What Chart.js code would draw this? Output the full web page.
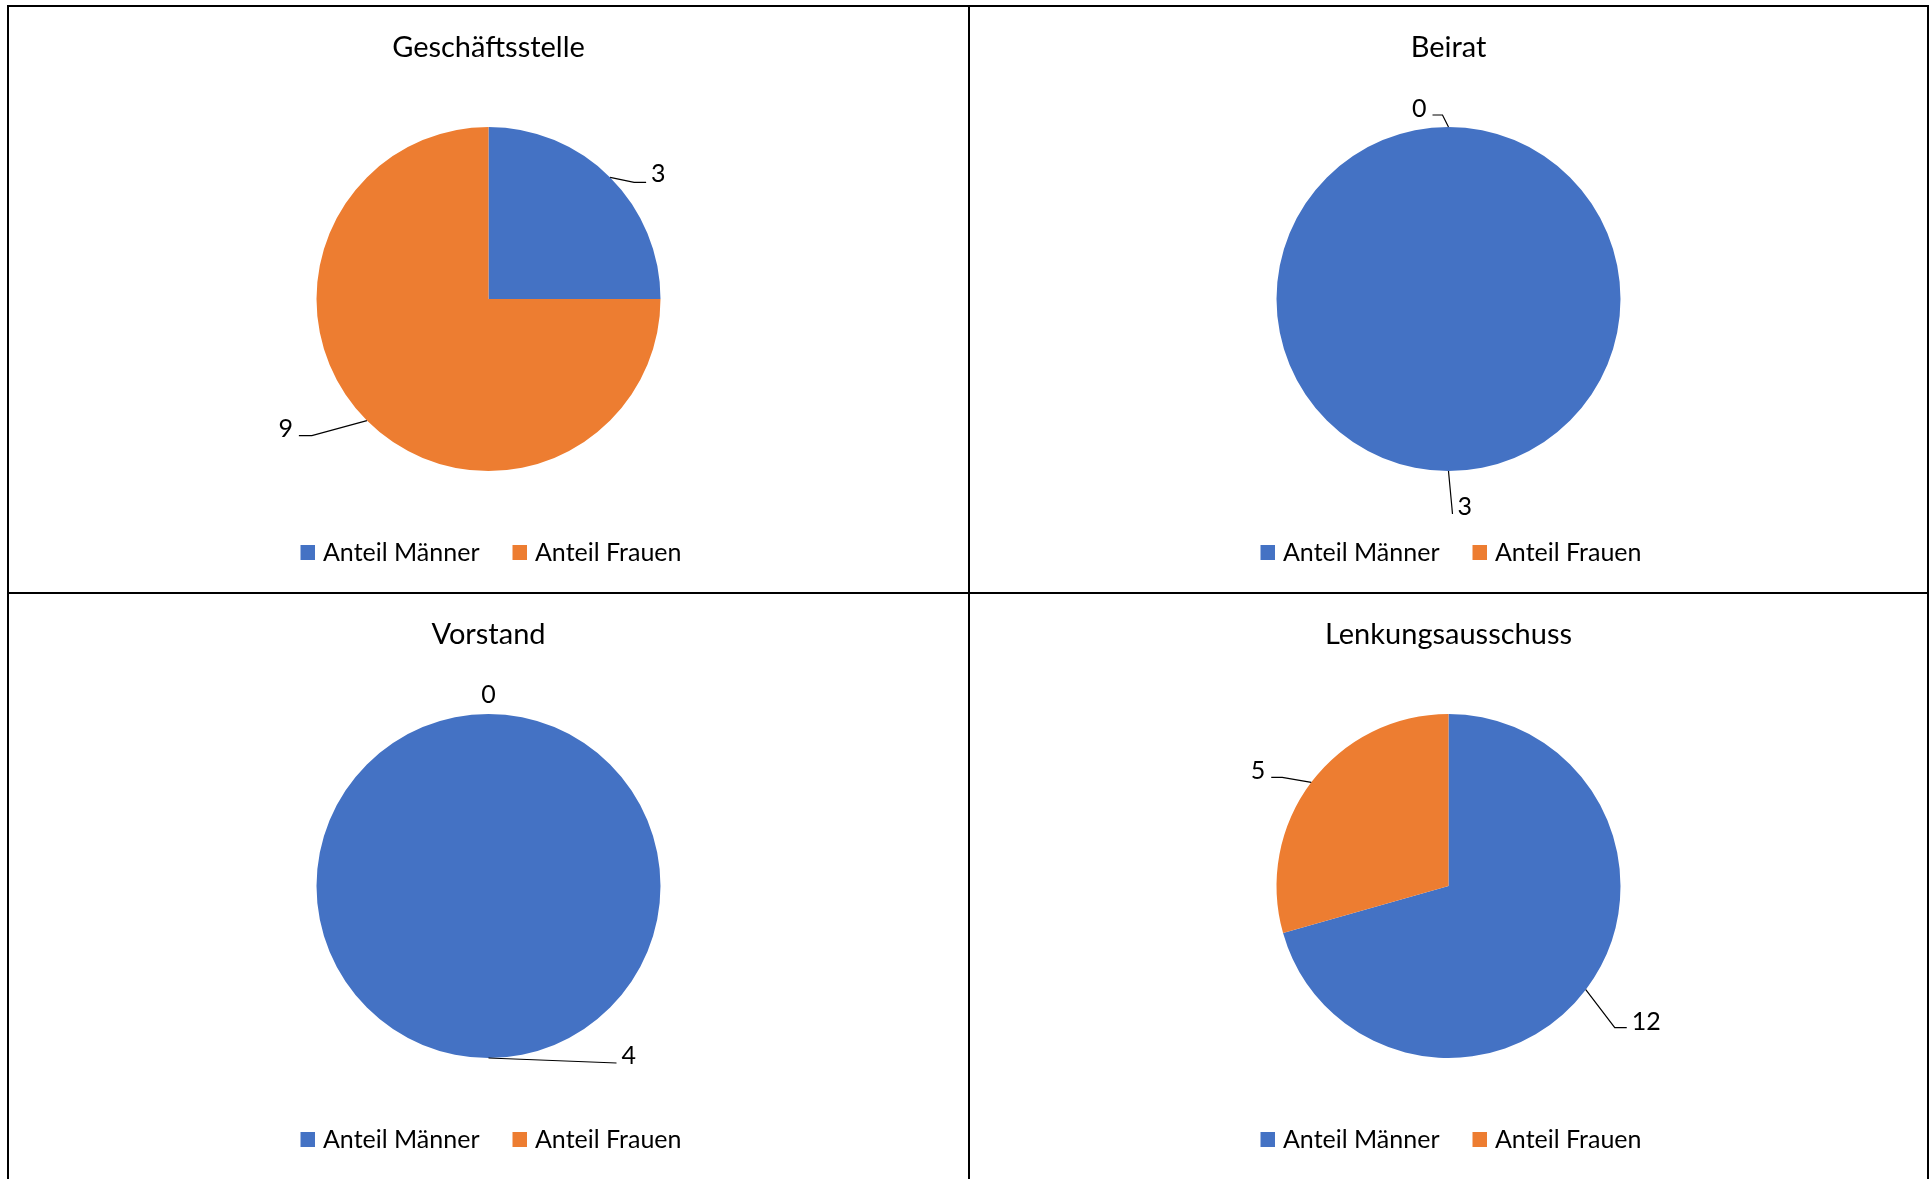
<!DOCTYPE html>
<html>
<head>
<meta charset="utf-8">
<script src="https://cdn.jsdelivr.net/npm/chart.js@4.4.1/dist/chart.umd.min.js"></script>
<style>
  html, body { margin: 0; padding: 0; background: #fff; width: 1929px; height: 1179px; overflow: hidden; }
  .frame { position: absolute; left: 7px; top: 5px; width: 1918px; height: 1300px;
           border-left: 2px solid #000; border-top: 2px solid #000; border-right: 2px solid #000; }
  .vline { position: absolute; left: 968px; top: 5px; width: 2px; height: 1300px; background: #000; }
  .hline { position: absolute; left: 7px; top: 592px; width: 1922px; height: 2px; background: #000; }
  canvas { position: absolute; }
</style>
</head>
<body>
<div class="frame"></div>
<div class="vline"></div>
<div class="hline"></div>
<canvas id="c0" width="959" height="585" style="left:9px;top:7px"></canvas>
<canvas id="c1" width="957" height="585" style="left:970px;top:7px"></canvas>
<canvas id="c2" width="959" height="585" style="left:9px;top:594px"></canvas>
<canvas id="c3" width="957" height="585" style="left:970px;top:594px"></canvas>
<script>
// ---- data ----
const categories = ['Anteil Männer', 'Anteil Frauen'];
const panelTitles = ['Geschäftsstelle', 'Beirat', 'Vorstand', 'Lenkungsausschuss'];
const geschaeftsstelle = [3, 9];
const beirat = [3, 0];
const vorstand = [4, 0];
const lenkungsausschuss = [12, 5];
const panelValues = [geschaeftsstelle, beirat, vorstand, lenkungsausschuss];

// ---- style ----
const colors = ['#4472C4', '#ED7D31'];
const FONT = 'Lato, "Open Sans", "Noto Sans", sans-serif';
// label placement (offsets of the leader elbow relative to the slice's edge point)
const labelLayouts = [
  [{dx: 24, dy: 5, tick: 12}, {dx: -55, dy: 15, tick: -13, lift: 7}],
  [{dx: 4, dy: 43, tick: 0, lift: 7}, {dx: -6, dy: -12, tick: -10, lift: 6}],
  [{dx: 128, dy: 5, tick: 0, lift: 7}, {dx: 0, dy: -19, leader: false, align: 'center', lift: 0}],
  [{dx: 29, dy: 38, tick: 12, lift: 6}, {dx: -29, dy: -5, tick: -11, lift: 6}]
];

// legend swatches: 15px square sitting at the right of a 25px-wide image (tightens box/text gap)
const swatches = colors.map(c => {
  const cv = document.createElement('canvas');
  cv.width = 25; cv.height = 15;
  const g = cv.getContext('2d');
  g.fillStyle = c;
  g.fillRect(10, 0, 15, 15);
  return cv;
});

const leaderLabels = {
  id: 'leaderLabels',
  afterDatasetsDraw(chart, args, opts) {
    const ctx = chart.ctx;
    const meta = chart.getDatasetMeta(0);
    const values = chart.data.datasets[0].data;
    const layout = opts.layout || [];
    ctx.save();
    ctx.font = '25px ' + FONT;
    ctx.fillStyle = '#000';
    ctx.strokeStyle = '#000';
    ctx.lineWidth = 1.2;
    ctx.textBaseline = 'middle';
    meta.data.forEach((arc, i) => {
      const p = arc.getProps(['x', 'y', 'startAngle', 'endAngle', 'outerRadius'], true);
      const mid = (p.startAngle + p.endAngle) / 2;
      const px = p.x + Math.cos(mid) * p.outerRadius;
      const py = p.y + Math.sin(mid) * p.outerRadius;
      const L = layout[i] || {dx: 0, dy: -20, leader: false, align: 'center'};
      const ex = px + L.dx, ey = py + L.dy;
      const tick = L.tick || 0;
      if (L.leader !== false) {
        ctx.beginPath();
        ctx.moveTo(px, py);
        ctx.lineTo(ex, ey);
        if (tick) ctx.lineTo(ex + tick, ey);
        ctx.stroke();
      }
      const lift = L.lift !== undefined ? L.lift : 8;
      const txt = String(values[i]);
      if (L.align === 'center') {
        ctx.textAlign = 'center';
        ctx.fillText(txt, ex, ey - lift);
      } else if (L.dx + tick >= 0) {
        ctx.textAlign = 'left';
        ctx.fillText(txt, ex + tick + 5, ey - lift);
      } else {
        ctx.textAlign = 'right';
        ctx.fillText(txt, ex + tick - 6, ey - lift);
      }
    });
    ctx.restore();
  }
};

Chart.defaults.font.family = FONT;
Chart.defaults.color = '#000';
const baseGen = (Chart.overrides.doughnut || Chart.overrides.pie).plugins.legend.labels.generateLabels;

panelValues.forEach((vals, k) => {
  new Chart(document.getElementById('c' + k), {
    type: 'pie',
    data: {
      labels: categories,
      datasets: [{
        data: vals,
        backgroundColor: colors,
        borderWidth: 0,
        radius: 172
      }]
    },
    options: {
      responsive: false,
      animation: false,
      layout: { padding: { bottom: 17 } },
      plugins: {
        title: {
          display: true,
          text: panelTitles[k],
          color: '#000',
          font: { size: 29, weight: 'normal', family: FONT },
          padding: { top: 23, bottom: 21.2 }
        },
        legend: {
          position: 'bottom',
          labels: {
            usePointStyle: true,
            boxWidth: 15,
            boxHeight: 15,
            padding: 28,
            color: '#000',
            font: { size: 25, family: FONT },
            generateLabels(chart) {
              const items = baseGen(chart);
              items.forEach((it, i) => { it.pointStyle = swatches[i % swatches.length]; it.hidden = false; });
              return items;
            }
          }
        },
        tooltip: { enabled: false },
        leaderLabels: { layout: labelLayouts[k] }
      }
    },
    plugins: [leaderLabels]
  });
});
</script>
</body>
</html>
